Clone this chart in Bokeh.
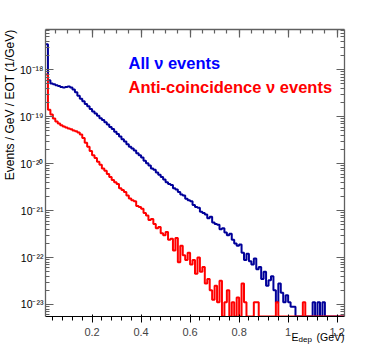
import numpy as np
from bokeh.plotting import figure
from bokeh.models import Range1d, LogAxis, LinearAxis, FixedTicker, Label, Title
from bokeh.embed import file_html
from bokeh.resources import INLINE

# ---- data (histograms, bin width 0.01 GeV starting at 0.01 GeV) ----
bin_start = 0.01
bin_width = 0.01

all_nu = [
    3.5e-18, 6.0e-19, 5.1e-19, 4.9e-19, 4.7e-19, 4.5e-19, 4.3e-19, 4.2e-19, 4.3e-19, 4.4e-19,
    4.2e-19, 3.8e-19, 3.3e-19, 2.8e-19, 2.4e-19, 2.14e-19, 1.86e-19, 1.66e-19, 1.45e-19, 1.29e-19,
    1.17e-19, 1.05e-19, 9.3e-20, 8.5e-20, 7.6e-20, 6.8e-20, 6.0e-20, 5.5e-20, 4.8e-20, 4.3e-20,
    3.8e-20, 3.3e-20, 2.95e-20, 2.6e-20, 2.3e-20, 2.1e-20, 1.9e-20, 1.66e-20, 1.51e-20, 1.35e-20,
    1.15e-20, 1.02e-20, 9.1e-21, 7.9e-21, 7.4e-21, 6.5e-21, 5.8e-21, 5.2e-21, 4.6e-21, 4.0e-21,
    3.7e-21, 3.5e-21, 3.0e-21, 2.8e-21, 2.5e-21, 2.2e-21, 2.1e-21, 1.78e-21, 1.66e-21, 1.58e-21,
    1.32e-21, 1.20e-21, 1.15e-21, 9.5e-22, 8.9e-22, 8.3e-22, 6.9e-22, 7.4e-22, 5.6e-22, 5.2e-22,
    5.0e-22, 4.0e-22, 4.2e-22, 3.4e-22, 3.0e-22, 3.2e-22, 2.4e-22, 2.0e-22, 1.78e-22, 1.9e-22,
    1.26e-22, 8.9e-23, 1.20e-22, 8.3e-23, 7.1e-23, 9.5e-23, 5.6e-23, 6.3e-23, 3.5e-23, 5.0e-23,
    2.5e-23, 3.3e-23, 4.0e-23, 2.0e-23, 1.12e-23, 2.8e-23, 1.78e-23, 1.12e-23, 1.58e-23, 1.12e-23,
    8.9e-24, 8.9e-24, 0, 0, 0, 0, 0, 0, 0, 1.12e-23,
    0, 1.12e-23, 0, 1.12e-23, 0, 0, 0, 0, 0, 0,
    0, 0,
]

anti_nu = [
    7.9e-19, 1.41e-19, 1.12e-19, 9.1e-20, 7.9e-20, 7.2e-20, 6.6e-20, 6.2e-20, 5.9e-20, 5.6e-20,
    5.4e-20, 5.1e-20, 4.9e-20, 4.6e-20, 4.2e-20, 3.5e-20, 2.8e-20, 2.3e-20, 1.86e-20, 1.51e-20,
    1.32e-20, 1.10e-20, 9.5e-21, 7.9e-21, 7.1e-21, 6.0e-21, 5.2e-21, 4.5e-21, 4.0e-21, 3.7e-21,
    3.0e-21, 2.75e-21, 2.5e-21, 2.1e-21, 1.82e-21, 1.66e-21, 1.58e-21, 1.26e-21, 1.20e-21, 1.10e-21,
    8.9e-22, 7.9e-22, 6.3e-22, 6.6e-22, 5.2e-22, 4.2e-22, 4.5e-22, 3.3e-22, 3.0e-22, 3.5e-22,
    2.4e-22, 2.5e-22, 1.41e-22, 2.6e-22, 7.9e-23, 1.78e-22, 1.12e-22, 8.9e-23, 1.26e-22, 7.1e-23,
    8.9e-23, 4.5e-23, 1.0e-22, 5.0e-23, 6.3e-23, 2.8e-23, 3.5e-23, 2.0e-23, 1.26e-23, 2.5e-23,
    1.12e-23, 3.2e-23, 0, 1.12e-23, 2.0e-23, 0, 1.12e-23, 0, 1.41e-23, 0,
    2.8e-23, 1.12e-23, 0, 0, 0, 1.12e-23, 1.12e-23, 0, 0, 0,
    0, 0, 0, 0, 1.12e-23, 0, 0, 0, 0, 0,
    0, 0, 0, 0, 0, 1.12e-23, 0, 0, 0, 0,
    0, 0, 0, 0, 0, 0, 0, 0, 0, 0,
    0, 0,
]

x_ticks = [0.2, 0.4, 0.6, 0.8, 1.0, 1.2]
x_tick_labels = ["0.2", "0.4", "0.6", "0.8", "1", "1.2"]
y_ticks = [1e-23, 1e-22, 1e-21, 1e-20, 1e-19, 1e-18]
y_tick_labels = ["10⁻²³", "10⁻²²", "10⁻²¹", "10⁻²⁰", "10⁻¹⁹", "10⁻¹⁸"]

legend_all = "All ν events"
legend_anti = "Anti-coincidence ν events"
y_title = "Events / GeV / EOT (1/GeV)"

x_lo, x_hi = 0.01, 1.23
y_lo, y_hi = 5.55e-24, 7.2e-18

FONT = "Liberation Sans"
AXIS_COL = "#606060"
FW, FH = 299, 287

# ---- figure ----
p = figure(frame_width=FW, frame_height=FH,
           x_range=Range1d(x_lo, x_hi), y_range=Range1d(y_lo, y_hi),
           y_axis_type="log", output_backend="svg", toolbar_location=None,
           min_border_left=45, min_border_right=20, min_border_top=29, min_border_bottom=36)
p.outline_line_color = None
p.xgrid.visible = False
p.ygrid.visible = False
p.background_fill_color = "white"
p.border_fill_color = "white"

n = len(all_nu)
edges = bin_start + bin_width * np.arange(n + 1)

def step_vals(v):
    v = np.asarray(v, dtype=float)
    v = np.where(v > 0, v, y_lo)
    return np.append(v, v[-1])

p.step(edges, step_vals(all_nu), mode="after", line_color="#000099", line_width=2)
p.step(edges, step_vals(anti_nu), mode="after", line_color="#ff0000", line_width=2)

x_minor = [round(0.05 * k, 2) for k in range(0, 26)]
y_minor = [m * 10.0 ** e for e in range(-24, -17) for m in range(2, 10)]

top_ax = LinearAxis()
right_ax = LogAxis()
p.add_layout(top_ax, "above")
p.add_layout(right_ax, "right")

for ax in [p.xaxis[0], top_ax]:
    ax.ticker = FixedTicker(ticks=x_ticks, minor_ticks=x_minor)
for ax in [p.yaxis[0], right_ax]:
    ax.ticker = FixedTicker(ticks=y_ticks, minor_ticks=y_minor)

for ax in [p.xaxis[0], top_ax, p.yaxis[0], right_ax]:
    ax.axis_line_color = AXIS_COL
    ax.axis_line_width = 1.3
    ax.major_tick_line_color = AXIS_COL
    ax.minor_tick_line_color = AXIS_COL
    ax.major_tick_line_width = 1.2
    ax.minor_tick_line_width = 1.2
    ax.major_tick_in = 8
    ax.major_tick_out = 0
    ax.minor_tick_in = 4
    ax.minor_tick_out = 0
    ax.major_label_text_font = FONT
    ax.major_label_text_font_size = "11px"
    ax.major_label_text_color = "black"

p.yaxis[0].major_label_text_font_size = "10.5px"
p.xaxis[0].major_label_overrides = dict(zip(x_ticks, x_tick_labels))
p.xaxis[0].major_label_standoff = 0
p.yaxis[0].major_label_overrides = dict(zip(y_ticks, y_tick_labels))
p.yaxis[0].major_label_standoff = 2
top_ax.major_label_overrides = {t: "" for t in x_ticks}
right_ax.major_label_overrides = {t: "" for t in y_ticks}
top_ax.major_label_standoff = 0
right_ax.major_label_standoff = 0

# helpers: pixel offsets from the frame's bottom-left corner -> data coordinates
def fx(px):
    return x_lo + px / FW * (x_hi - x_lo)

def fy(py):
    l0, l1 = np.log10(y_lo), np.log10(y_hi)
    return 10 ** (l0 + py / FH * (l1 - l0))

# ---- legend texts (inside the frame) ----
p.add_layout(Label(x=83, y=254, x_units="screen", y_units="screen", text=legend_all,
                   text_font=FONT, text_font_size="16.5px", text_font_style="bold",
                   text_color="#0000ff", text_baseline="alphabetic"))
p.add_layout(Label(x=83, y=230, x_units="screen", y_units="screen", text=legend_anti,
                   text_font=FONT, text_font_size="16.5px", text_font_style="bold",
                   text_color="#ff0000", text_baseline="alphabetic"))

# ---- axis titles (hosted in side panels so they are not clipped to the frame) ----
p.add_layout(Title(text=y_title, align="right", text_font=FONT, text_font_size="12px",
                   text_font_style="normal", text_color="black", text_line_height=1.0,
                   standoff=0, offset=0), "left")

p.add_layout(Label(x=fx(246), y=fy(-20), text="E",
                   text_font=FONT, text_font_size="10.5px", text_color="black",
                   text_baseline="alphabetic"), "right")
p.add_layout(Label(x=fx(253), y=fy(-23), text="dep",
                   text_font=FONT, text_font_size="8px", text_color="black",
                   text_baseline="alphabetic"), "right")
p.add_layout(Label(x=fx(299), y=fy(-20), text="(GeV)",
                   text_font=FONT, text_font_size="10.5px", text_color="black",
                   text_align="right", text_baseline="alphabetic"), "above")

open("out.html", "w").write(file_html(p, INLINE))
